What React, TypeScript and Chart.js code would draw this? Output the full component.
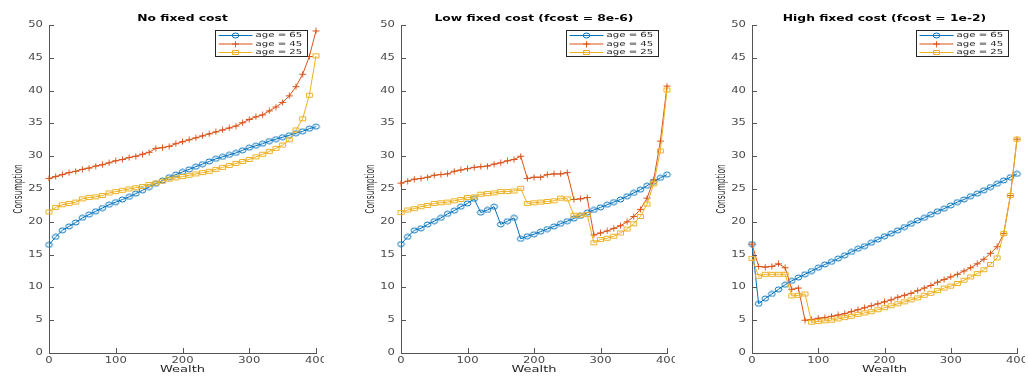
import React, { useEffect, useRef } from "react";
import { Chart, registerables } from "chart.js";

Chart.register(...registerables);

// ---------------- data ----------------
const WEALTH = [
  0, 10, 20, 30, 40, 50, 60, 70, 80, 90, 100, 110, 120, 130, 140, 150, 160, 170, 180, 190, 200,
  210, 220, 230, 240, 250, 260, 270, 280, 290, 300, 310, 320, 330, 340, 350, 360, 370, 380, 390, 400,
];

const TITLES = ["No fixed cost", "Low fixed cost (fcost = 8e-6)", "High fixed cost (fcost = 1e-2)"];
const SERIES_LABELS = ["age = 65", "age = 45", "age = 25"];
const X_LABEL = "Wealth";
const Y_LABEL = "Consumption";

// No fixed cost
const NOFC_AGE65 = [16.5, 17.7, 18.7, 19.3, 19.9, 20.6, 21.1, 21.6, 22.1, 22.6, 23.0, 23.4, 23.8, 24.3, 24.8, 25.3, 25.8, 26.3, 26.8, 27.2, 27.6, 28.0, 28.4, 28.8, 29.2, 29.6, 29.9, 30.2, 30.5, 30.9, 31.3, 31.6, 31.9, 32.3, 32.6, 32.9, 33.2, 33.5, 33.8, 34.2, 34.5];
const NOFC_AGE45 = [26.6, 26.9, 27.2, 27.5, 27.7, 28.0, 28.2, 28.5, 28.7, 29.0, 29.3, 29.5, 29.8, 30.0, 30.3, 30.6, 31.2, 31.3, 31.5, 31.9, 32.2, 32.5, 32.8, 33.1, 33.4, 33.7, 34.0, 34.3, 34.6, 35.1, 35.6, 36.0, 36.3, 36.9, 37.5, 38.2, 39.2, 40.6, 42.5, 45.2, 49.1];
const NOFC_AGE25 = [21.5, 22.2, 22.6, 22.8, 23.0, 23.5, 23.7, 23.8, 24.0, 24.4, 24.6, 24.8, 25.0, 25.2, 25.4, 25.7, 25.9, 26.2, 26.5, 26.7, 26.9, 27.1, 27.3, 27.5, 27.7, 28.0, 28.3, 28.6, 28.9, 29.2, 29.5, 29.9, 30.3, 30.7, 31.2, 31.7, 32.5, 34.0, 35.7, 39.3, 45.3];

// Low fixed cost
const LOWFC_AGE65 = [16.6, 17.7, 18.7, 19.0, 19.6, 20.1, 20.6, 21.2, 21.7, 22.3, 22.8, 23.5, 21.4, 21.8, 22.3, 19.6, 20.1, 20.6, 17.4, 17.8, 18.1, 18.5, 18.9, 19.3, 19.7, 20.1, 20.5, 20.9, 21.4, 21.8, 22.2, 22.6, 23.0, 23.4, 23.9, 24.4, 24.9, 25.5, 26.1, 26.7, 27.2];
const LOWFC_AGE45 = [25.9, 26.2, 26.5, 26.6, 26.8, 27.1, 27.2, 27.3, 27.7, 27.9, 28.1, 28.3, 28.4, 28.5, 28.8, 29.0, 29.3, 29.5, 30.0, 26.6, 26.8, 26.8, 27.2, 27.3, 27.3, 27.5, 23.4, 23.5, 23.7, 18.0, 18.3, 18.6, 19.0, 19.4, 20.0, 20.8, 21.9, 23.6, 26.4, 32.3, 40.7];
const LOWFC_AGE25 = [21.4, 21.8, 22.0, 22.3, 22.5, 22.8, 22.9, 23.0, 23.2, 23.4, 23.7, 23.8, 24.2, 24.3, 24.4, 24.6, 24.6, 24.7, 25.1, 22.8, 22.9, 23.0, 23.1, 23.2, 23.6, 23.5, 21.0, 21.0, 21.1, 16.8, 17.3, 17.5, 17.8, 18.3, 18.9, 19.7, 20.8, 22.7, 25.8, 30.8, 40.1];

// High fixed cost
const HIGHFC_AGE65 = [16.6, 7.5, 8.3, 9.0, 9.7, 10.4, 11.0, 11.5, 12.0, 12.5, 13.0, 13.5, 13.9, 14.4, 14.9, 15.4, 15.9, 16.3, 16.8, 17.3, 17.8, 18.2, 18.7, 19.2, 19.7, 20.2, 20.6, 21.1, 21.6, 22.0, 22.5, 23.0, 23.4, 23.9, 24.3, 24.8, 25.3, 25.8, 26.3, 26.8, 27.3];
const HIGHFC_AGE45 = [16.6, 13.2, 13.1, 13.2, 13.6, 13.0, 9.7, 9.9, 5.0, 5.1, 5.3, 5.4, 5.6, 5.8, 6.0, 6.3, 6.6, 6.9, 7.2, 7.5, 7.8, 8.1, 8.5, 8.8, 9.1, 9.5, 9.9, 10.3, 10.8, 11.2, 11.6, 12.0, 12.5, 13.0, 13.6, 14.3, 15.2, 16.2, 18.2, 24.0, 32.6];
const HIGHFC_AGE25 = [14.4, 11.7, 12.0, 12.0, 12.0, 12.0, 8.7, 8.8, 9.0, 4.7, 4.8, 4.9, 5.0, 5.2, 5.4, 5.6, 5.9, 6.1, 6.3, 6.6, 6.9, 7.2, 7.5, 7.8, 8.1, 8.4, 8.8, 9.1, 9.5, 9.9, 10.2, 10.6, 11.1, 11.6, 12.1, 12.7, 13.5, 14.5, 18.2, 24.0, 32.6];

const PANEL_SERIES = [
  [NOFC_AGE65, NOFC_AGE45, NOFC_AGE25],
  [LOWFC_AGE65, LOWFC_AGE45, LOWFC_AGE25],
  [HIGHFC_AGE65, HIGHFC_AGE45, HIGHFC_AGE25],
];

// ---------------- styles / layout ----------------
const COLORS = ["#0072BD", "#D95319", "#EDB120"];
const MARKERS = ["circle", "plus", "square"];
const AXIS_COLOR = "#555555";
const TICK_TEXT = "#4a4a4a";
const LABEL_TEXT = "#262626";
const FONT = "'DejaVu Sans', 'Liberation Sans', sans-serif";
const SX = 1.45; // horizontal stretch of the reference rendering

const PANELS = [
  { left: 0, width: 324 },
  { left: 352, width: 323 },
  { left: 703, width: 322 },
];
const HEIGHT = 376;

function makeMarker(kind: string, color: string): HTMLCanvasElement {
  const c = document.createElement("canvas");
  c.width = 9;
  c.height = 7;
  const ctx = c.getContext("2d")!;
  ctx.strokeStyle = color;
  ctx.lineWidth = 1;
  ctx.beginPath();
  if (kind === "circle") {
    ctx.ellipse(4.5, 3.5, 3.3, 2.5, 0, 0, Math.PI * 2);
  } else if (kind === "plus") {
    ctx.moveTo(1, 3.5);
    ctx.lineTo(8, 3.5);
    ctx.moveTo(4.5, 0.5);
    ctx.lineTo(4.5, 6.5);
  } else {
    ctx.rect(1.5, 1.5, 6, 4);
  }
  ctx.stroke();
  return c;
}

function sText(
  ctx: CanvasRenderingContext2D,
  text: string,
  x: number,
  y: number,
  font: string,
  color: string,
  align: CanvasTextAlign,
  rotate = false,
  along = 1
) {
  ctx.save();
  ctx.translate(x, y);
  ctx.scale(SX, along);
  if (rotate) ctx.rotate(-Math.PI / 2);
  ctx.font = font;
  ctx.fillStyle = color;
  ctx.textAlign = align;
  ctx.textBaseline = "middle";
  ctx.fillText(text, 0, 0);
  ctx.restore();
}

function makeDecor(title: string, markers: HTMLCanvasElement[]) {
  return {
    id: "matlabDecor",
    afterDraw(chart: any) {
      const ctx: CanvasRenderingContext2D = chart.ctx;
      const a = chart.chartArea;
      const xs = chart.scales.x;
      const ys = chart.scales.y;
      ctx.save();
      // inward tick marks
      ctx.strokeStyle = AXIS_COLOR;
      ctx.lineWidth = 1;
      ctx.beginPath();
      ys.ticks.forEach((t: any) => {
        const py = Math.round(ys.getPixelForValue(t.value)) + 0.5;
        ctx.moveTo(a.left, py);
        ctx.lineTo(a.left + 5, py);
      });
      xs.ticks.forEach((t: any) => {
        const px = Math.round(xs.getPixelForValue(t.value)) + 0.5;
        ctx.moveTo(px, a.bottom);
        ctx.lineTo(px, a.bottom - 5);
      });
      ctx.stroke();

      // tick labels
      ys.ticks.forEach((t: any) => {
        sText(ctx, String(t.value), a.left - 6, ys.getPixelForValue(t.value), `8px ${FONT}`, TICK_TEXT, "right");
      });
      xs.ticks.forEach((t: any) => {
        sText(ctx, String(t.value), xs.getPixelForValue(t.value), a.bottom + 7.5, `8px ${FONT}`, TICK_TEXT, "center");
      });

      // axis titles and title
      const cx = (a.left + a.right) / 2;
      const cy = (a.top + a.bottom) / 2;
      sText(ctx, X_LABEL, cx, a.bottom + 16.8, `9px ${FONT}`, LABEL_TEXT, "center");
      sText(ctx, Y_LABEL, a.left - 30, cy, `8.5px ${FONT}`, LABEL_TEXT, "center", true, 0.88);
      sText(ctx, title, cx, a.top - 6.5, `bold 8.5px ${FONT}`, "#000000", "center");

      // legend
      const bw = 92;
      const bh = 26;
      const bx = Math.round(a.right - 9 - bw) + 0.5;
      const by = Math.round(a.top + 5) + 0.5;
      ctx.fillStyle = "#ffffff";
      ctx.fillRect(bx, by, bw, bh);
      ctx.strokeStyle = "#262626";
      ctx.lineWidth = 1;
      ctx.strokeRect(bx, by, bw, bh);
      chart.data.datasets.forEach((ds: any, i: number) => {
        const ry = by + 5 + i * 8.5;
        ctx.strokeStyle = ds.borderColor;
        ctx.lineWidth = 1;
        ctx.beginPath();
        ctx.moveTo(bx + 3, ry);
        ctx.lineTo(bx + 37, ry);
        ctx.stroke();
        const m = markers[i];
        ctx.drawImage(m, bx + 20 - m.width / 2, ry - m.height / 2);
        sText(ctx, ds.label, bx + 40, ry, `7px ${FONT}`, LABEL_TEXT, "left");
      });
      ctx.restore();
    },
  };
}

function Panel({ index }: { index: number }) {
  const ref = useRef<HTMLCanvasElement | null>(null);
  useEffect(() => {
    if (!ref.current) return;
    const markers = COLORS.map((c, i) => makeMarker(MARKERS[i], c));
    const datasets = PANEL_SERIES[index].map((vals, i) => ({
      label: SERIES_LABELS[i],
      data: WEALTH.map((w, k) => ({ x: w, y: vals[k] })),
      borderColor: COLORS[i],
      backgroundColor: COLORS[i],
      borderWidth: 1,
      tension: 0,
      pointStyle: markers[i] as any,
      pointRadius: 3,
      clip: false as any,
      order: 3 - i,
    }));
    const chart = new Chart(ref.current, {
      type: "line",
      data: { datasets },
      options: {
        responsive: false,
        animation: false,
        devicePixelRatio: 1,
        layout: { padding: { top: 25, right: 8, left: 0, bottom: 0 } },
        plugins: {
          legend: { display: false },
          title: { display: false },
          tooltip: { enabled: false },
        },
        events: [],
        scales: {
          x: {
            type: "linear",
            min: 0,
            max: 400,
            ticks: { display: false, stepSize: 100 },
            grid: { display: false },
            border: { display: true, color: AXIS_COLOR, width: 1 },
            afterFit: (s: any) => {
              s.height = 23;
            },
          },
          y: {
            type: "linear",
            min: 0,
            max: 50,
            ticks: { display: false, stepSize: 5 },
            grid: { display: false },
            border: { display: true, color: AXIS_COLOR, width: 1 },
            afterFit: (s: any) => {
              s.width = 49;
            },
          },
        },
      } as any,
      plugins: [makeDecor(TITLES[index], markers)],
    });
    return () => chart.destroy();
  }, [index]);
  const p = PANELS[index];
  return (
    <canvas
      ref={ref}
      width={p.width}
      height={HEIGHT}
      style={{ position: "absolute", left: p.left, top: 0, width: p.width, height: HEIGHT, display: "block" }}
    />
  );
}

export default function App() {
  return (
    <div style={{ position: "absolute", left: 0, top: 0, width: 1028, height: HEIGHT, background: "#ffffff" }}>
      {PANELS.map((_, i) => (
        <Panel key={i} index={i} />
      ))}
    </div>
  );
}
